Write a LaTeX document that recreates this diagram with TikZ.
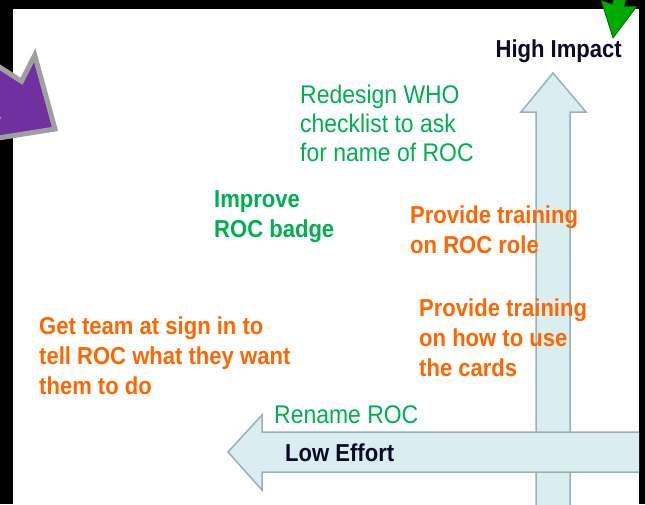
\documentclass[tikz,border=0pt]{standalone}
\usepackage{fontspec}
\setmainfont{Liberation Sans}[FakeStretch=0.9]
\usetikzlibrary{arrows.meta}
\definecolor{axisfill}{RGB}{218,237,241}
\definecolor{axisline}{RGB}{150,178,184}
\definecolor{idea}{RGB}{0,176,80}
\definecolor{task}{RGB}{255,102,0}
\definecolor{navy}{RGB}{10,10,40}
\definecolor{plum}{RGB}{112,48,160}
\definecolor{leaf}{RGB}{0,170,0}

\begin{document}
\begin{tikzpicture}[x=1pt, y=-1pt,
    txt/.style={inner sep=0pt, anchor=north west, align=left},
    regular/.style={txt, font=\fontsize{25.5}{29}\selectfont},
    strong/.style={txt, font=\fontsize{24.5}{30}\selectfont\bfseries},
    axis/.style={fill=axisfill, draw=axisline, line width=1.5pt, line join=miter}]
    \useasboundingbox (0,0) rectangle (645,504);
    % frame
    \fill[black] (0,0) rectangle (645,504);
    \fill[white] (13,9) rectangle (639,504);
    % axes
    \begin{scope}
      \clip (13,9) rectangle (639,504);
      \filldraw[axis] (536,510) -- (536,112) -- (521,112) -- (553,73)
        -- (586,112) -- (570,112) -- (570,510);
      \filldraw[axis] (645,432) -- (262,432) -- (262,415) -- (228,452)
        -- (262,490) -- (262,472) -- (645,472);
    \end{scope}
    % corner arrows
    \begin{scope}[shift={(55,129)}, rotate=-32.8]
      \filldraw[fill=plum, draw=gray!75, line width=5pt, line join=miter]
        (0,0) -- (-57,51) -- (-54,22) -- (-200,22) -- (-200,-22)
        -- (-54,-22) -- (-57,-51) -- cycle;
    \end{scope}
    \begin{scope}[shift={(613,38)}, rotate=-99.7]
      \filldraw[fill=leaf, draw=leaf!60!black, line width=0.8pt]
        (0,0) -- (-35,18) -- (-33,6) -- (-90,6) -- (-90,-6)
        -- (-33,-6) -- (-35,-18) -- cycle;
    \end{scope}
    % labels
    \node[strong, navy, anchor=base east] (high) at (622,57) {High Impact};
    \node[regular, idea] (redesign) at (300,85)
      {Redesign WHO\\checklist to ask\\for name of ROC};
    \node[strong, idea] (badge) at (214,190) {Improve\\ROC badge};
    \node[strong, task] (role) at (410,206) {Provide training\\on ROC role};
    \node[strong, task] (cards) at (419,299)
      {Provide training\\on how to use\\the cards};
    \node[strong, task] (signin) at (39,317)
      {Get team at sign in to\\tell ROC what they want\\them to do};
    \node[regular, idea] (rename) at (274,405) {Rename ROC};
    \node[strong, navy] (low) at (285,444) {Low Effort};
\end{tikzpicture}
\end{document}
